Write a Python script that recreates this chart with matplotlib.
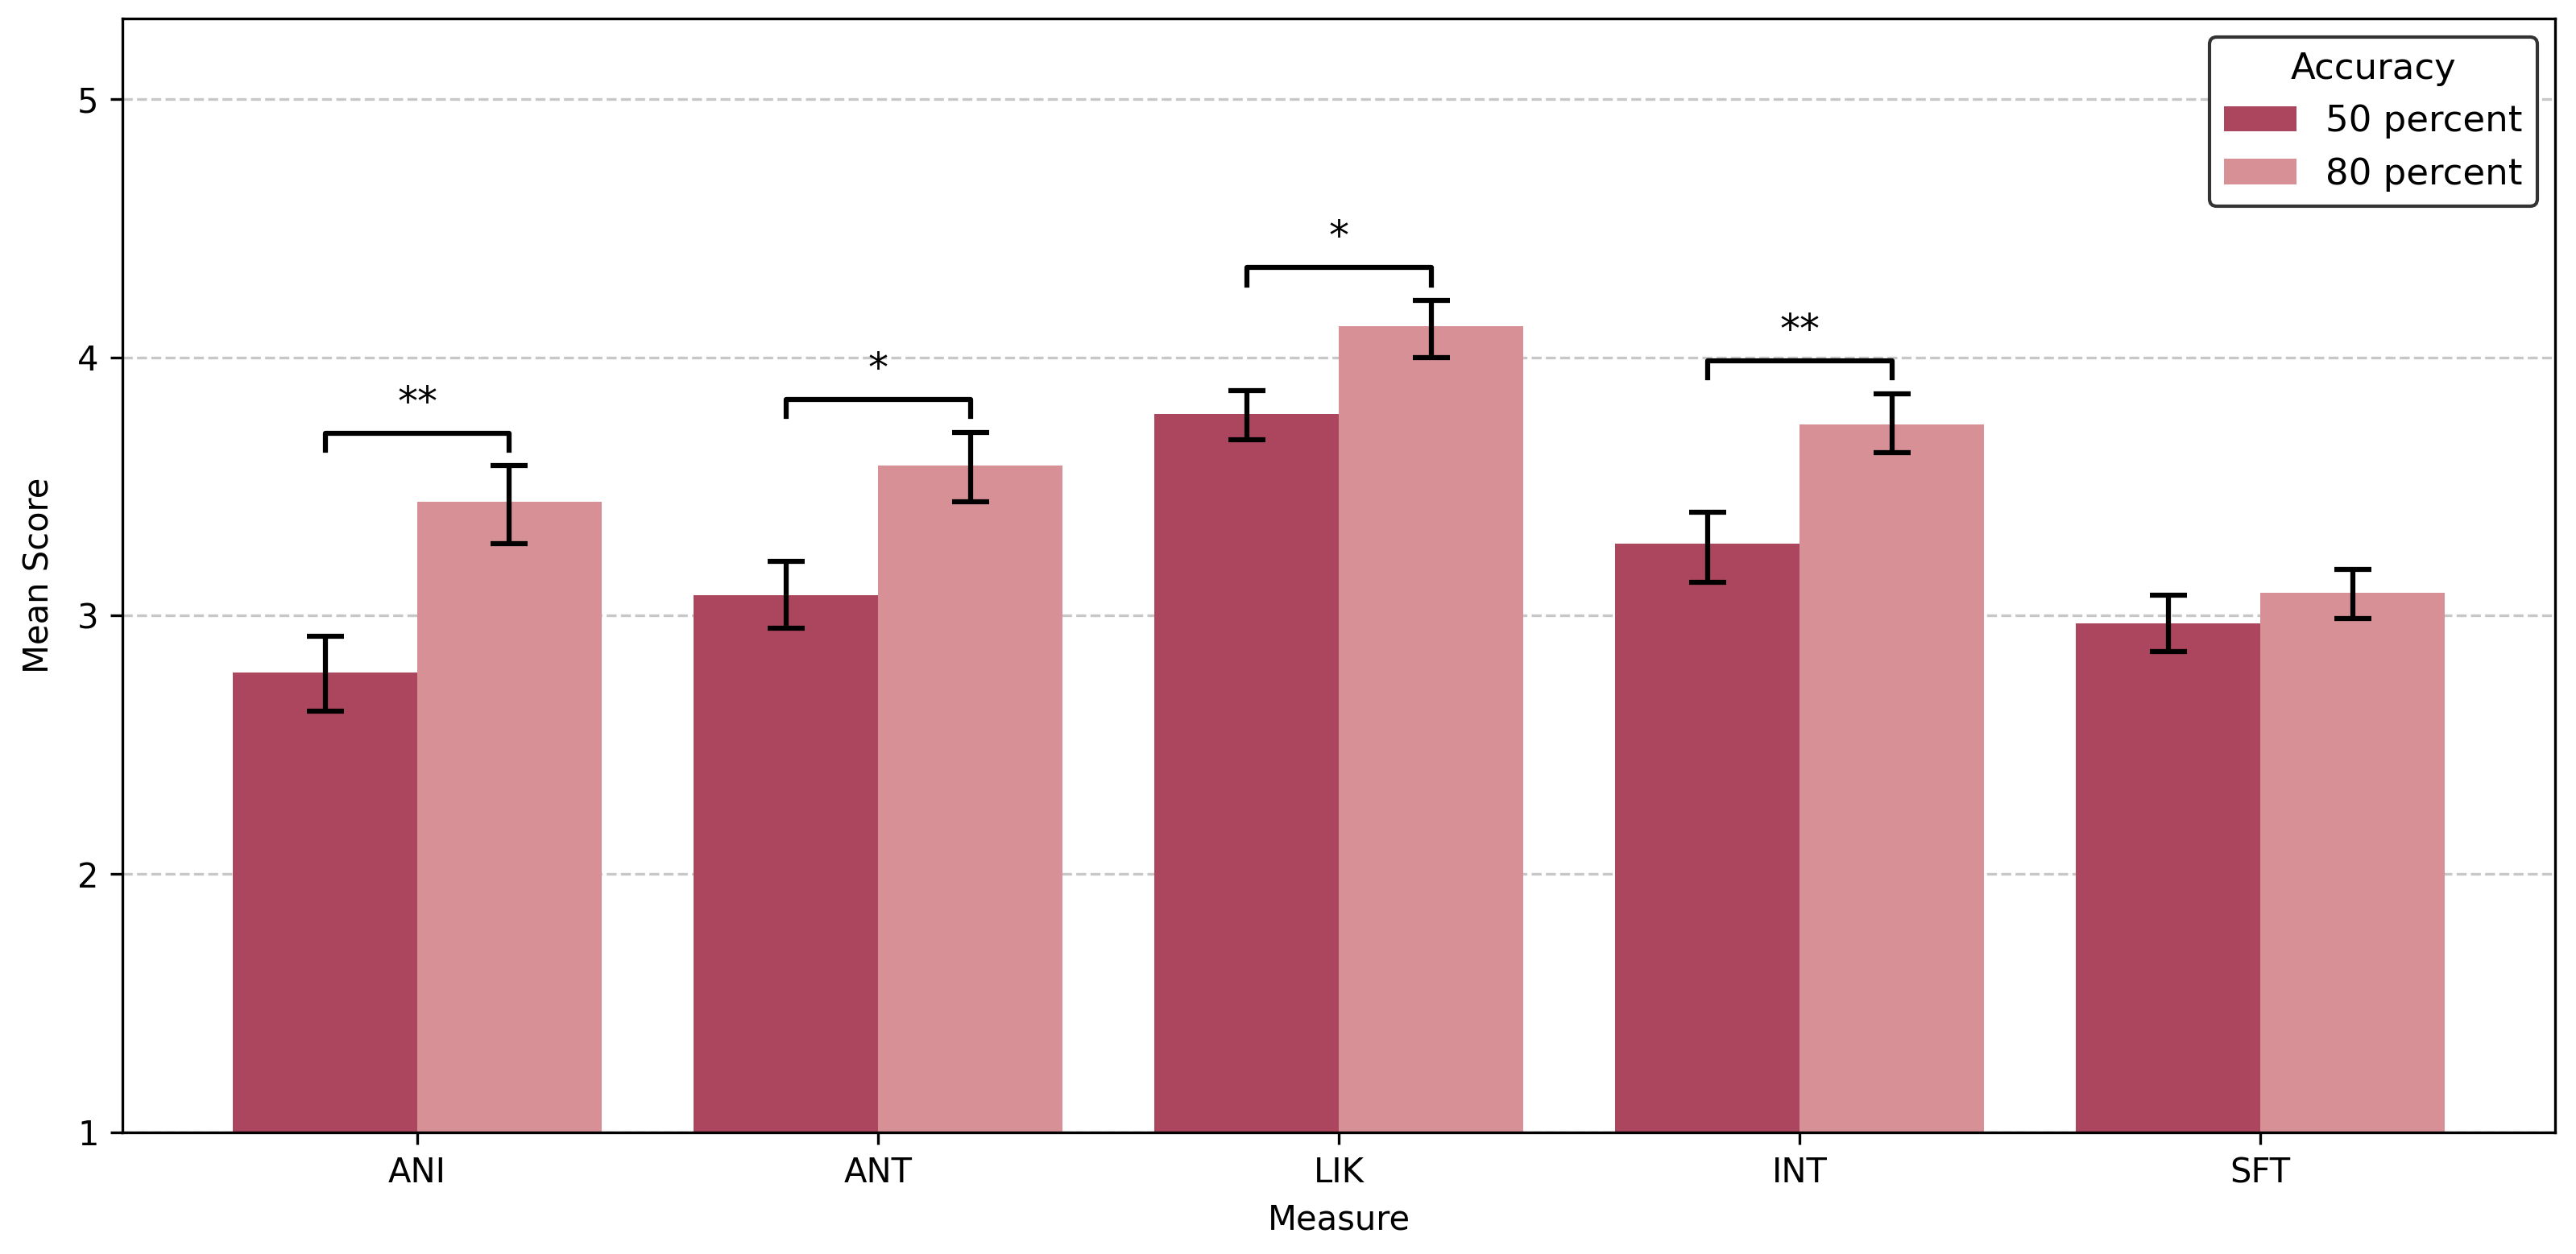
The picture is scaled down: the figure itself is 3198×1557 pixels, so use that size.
"""Mean score per measure by accuracy condition, with CI error bars and significance brackets."""

import matplotlib.pyplot as plt
import numpy as np

measures = ["ANI", "ANT", "LIK", "INT", "SFT"]
groups = ["50 percent", "80 percent"]
colors = ["#AC465E", "#D69096"]

means_50 = [2.78, 3.08, 3.78, 3.28, 2.97]
lower_50 = [2.63, 2.95, 3.68, 3.13, 2.86]
upper_50 = [2.92, 3.21, 3.87, 3.40, 3.08]

means_80 = [3.44, 3.58, 4.12, 3.74, 3.09]
lower_80 = [3.28, 3.44, 4.00, 3.63, 2.99]
upper_80 = [3.58, 3.71, 4.22, 3.86, 3.18]

# significance marks per measure ("" = not significant)
sig_marks = ["**", "*", "*", "**", ""]


def main() -> None:
    fig, ax = plt.subplots(figsize=(10.66, 5.19))
    fig.subplots_adjust(left=0.0475, right=0.992, top=0.985, bottom=0.097)

    x = np.arange(len(measures))
    width = 0.4
    series = [
        (means_50, lower_50, upper_50),
        (means_80, lower_80, upper_80),
    ]

    for i, (m, lo, hi) in enumerate(series):
        pos = x + (i - 0.5) * width
        m = np.array(m)
        yerr = np.vstack([m - np.array(lo), np.array(hi) - m])
        ax.bar(pos, m, width=width, color=colors[i], label=groups[i], zorder=2)
        ax.errorbar(
            pos, m, yerr=yerr, fmt="none", ecolor="black",
            elinewidth=1.5, capsize=5.5, capthick=1.5, zorder=3,
        )

    # significance brackets
    for i, mark in enumerate(sig_marks):
        if not mark:
            continue
        x1, x2 = x[i] - width / 2, x[i] + width / 2
        y = max(upper_50[i], upper_80[i]) + 0.127
        h = 0.067
        ax.plot([x1, x1, x2, x2], [y - h, y, y, y - h], color="black", lw=1.5, zorder=3)
        ax.text((x1 + x2) / 2, y + 0.04, mark, ha="center", va="bottom", fontsize=12)

    ax.set_ylim(1, 5.31)
    ax.set_yticks([1, 2, 3, 4, 5])
    ax.set_xticks(x)
    ax.set_xticklabels(measures)
    ax.set_xlabel("Measure")
    ax.set_ylabel("Mean Score", labelpad=6.5)
    ax.grid(axis="y", linestyle="--", alpha=0.7)
    ax.set_axisbelow(True)

    leg = ax.legend(
        title="Accuracy", loc="upper right", fancybox=True,
        fontsize=10.8, title_fontsize=10.8,
    )
    leg.get_frame().set_edgecolor("#333333")
    leg.get_frame().set_linewidth(1.0)
    leg.get_frame().set_alpha(1.0)

    fig.savefig("out.png", dpi=300)
    print("Saved to out.png")


if __name__ == "__main__":
    main()
